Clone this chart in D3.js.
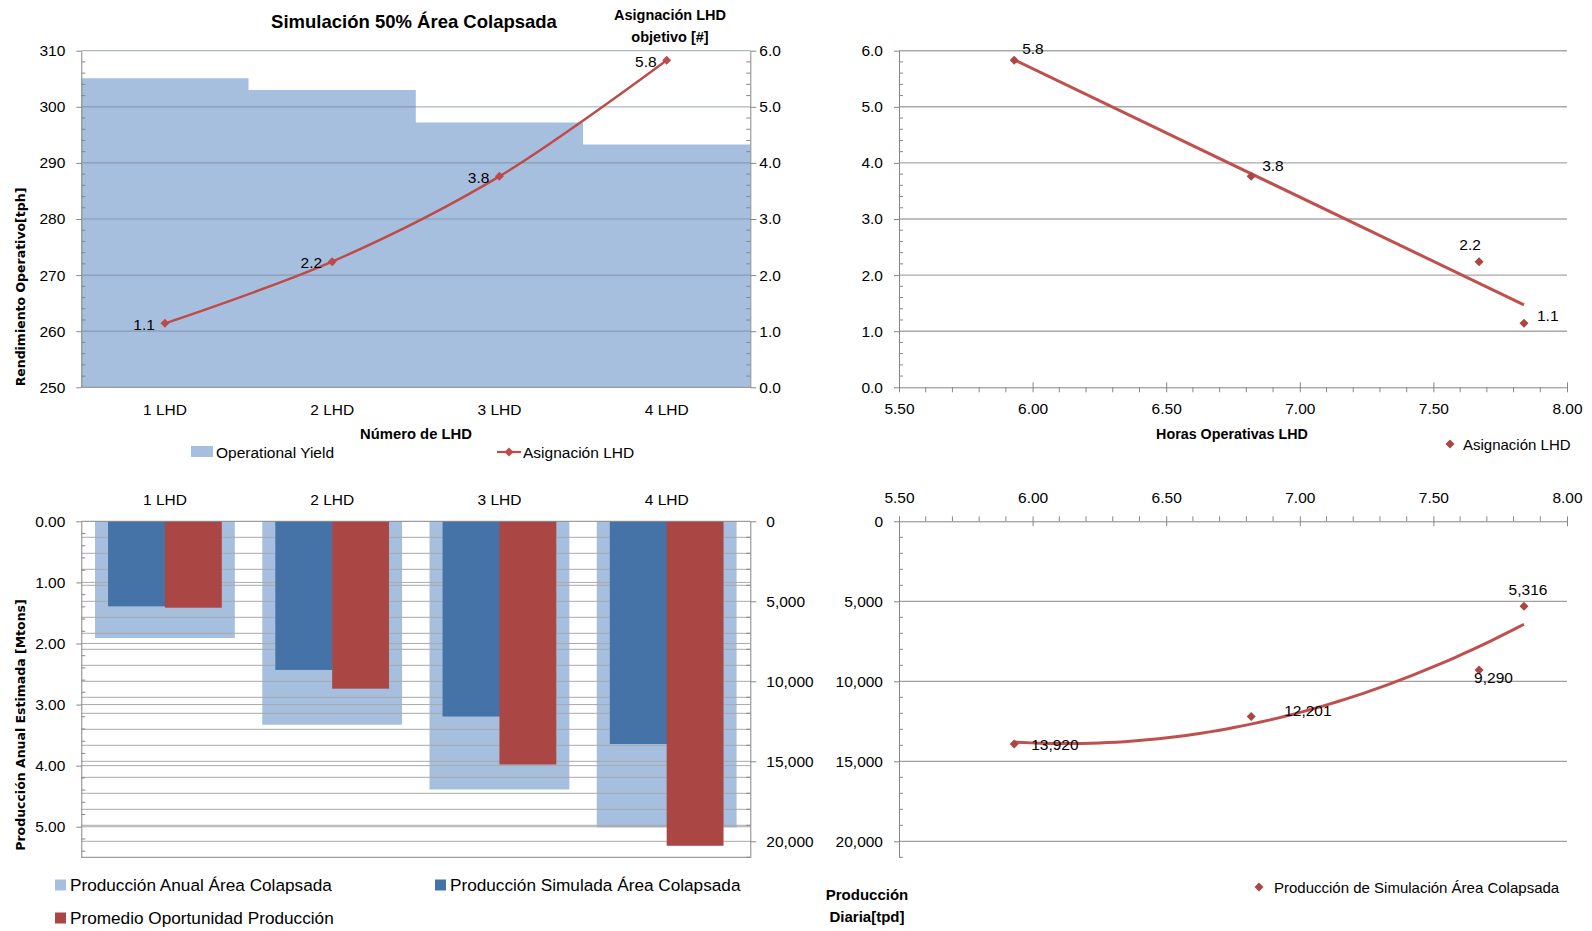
<!DOCTYPE html>
<html>
<head>
<meta charset="utf-8">
<script src="https://cdn.jsdelivr.net/npm/d3@7"></script>
<style>
  body { margin: 0; background: #fff; }
  svg { display: block; }
</style>
</head>
<body>
<svg id="chart" width="1592" height="931"></svg>
<script>
// ---- data ----
const categories = ["1 LHD", "2 LHD", "3 LHD", "4 LHD"];
const operationalYield = [305.1, 303.0, 297.2, 293.3];          // tph
const asignacionLHD = [1.14, 2.24, 3.76, 5.83];                 // LHD objetivo
const horasOperativas = [7.839, 7.671, 6.818, 5.931];           // h
const produccionAnual = [1.91, 3.33, 4.39, 5.01];               // Mtons
const produccionSimulada = [5316, 9290, 12201, 13920];          // tpd
const oportunidadProduccion = [5400, 10460, 15200, 20280];      // tpd

const yieldTicks = [250, 260, 270, 280, 290, 300, 310];
const asignacionTicks = [0, 1, 2, 3, 4, 5, 6];
const horasTicks = [5.5, 6.0, 6.5, 7.0, 7.5, 8.0];
const mtonsTicks = [0, 1, 2, 3, 4, 5];
const tpdTicks = [0, 5000, 10000, 15000, 20000];

// ---- shared styling ----
const FONT = "'Liberation Sans', Arial, sans-serif";
const TITLE_FONT = "'DejaVu Sans', Verdana, sans-serif";
const AXIS = "#868686";
const LIGHT_BLUE = "#a7bfde";
const DARK_BLUE = "#4572a7";
const RED = "#aa4643";
const LINE_RED = "#be4b48";
const TICK_FS = 15.5;

const svg = d3.select("#chart");
svg.append("rect").attr("width", 1592).attr("height", 931).attr("fill", "#fff");

const diamond = r => `M0,${-r}L${r},0L0,${r}L${-r},0Z`;

function styleAxis(g) {
  g.attr("font-family", FONT).attr("font-size", TICK_FS);
  g.selectAll(".domain").attr("stroke", AXIS).attr("stroke-width", 1);
  g.selectAll(".tick line").attr("stroke", AXIS);
  g.selectAll(".tick text").attr("fill", "#000");
}

// minor ticks on a vertical axis at x0, spanning dx0..dx1
function minorV(parent, scale, values, x0, dx0, dx1) {
  parent.append("g").selectAll("line").data(values).join("line")
    .attr("x1", x0 + dx0).attr("x2", x0 + dx1)
    .attr("y1", d => scale(d)).attr("y2", d => scale(d))
    .attr("stroke", AXIS).attr("stroke-width", 1);
}
// minor ticks on a horizontal axis at y0, spanning dy0..dy1
function minorH(parent, scale, values, y0, dy0, dy1) {
  parent.append("g").selectAll("line").data(values).join("line")
    .attr("y1", y0 + dy0).attr("y2", y0 + dy1)
    .attr("x1", d => scale(d)).attr("x2", d => scale(d))
    .attr("stroke", AXIS).attr("stroke-width", 1);
}
function txt(parent, x, y, s, opt = {}) {
  return parent.append("text").attr("x", x).attr("y", y).text(s)
    .attr("font-family", opt.family || FONT)
    .attr("font-size", opt.size || TICK_FS)
    .attr("font-weight", opt.weight || "normal")
    .attr("text-anchor", opt.anchor || "start")
    .attr("dominant-baseline", "central")
    .attr("fill", "#000");
}

// ================= Panel 1: rendimiento operativo + asignación =================
{
  const box = { l: 81.3, r: 750.3, t: 50.7, b: 387.3 };
  const g = svg.append("g");
  const x = d3.scaleBand().domain(categories).range([box.l, box.r]).padding(0);
  const y = d3.scaleLinear().domain([250, 310]).range([box.b, box.t]);
  const y2 = d3.scaleLinear().domain([0, 6]).range([box.b, box.t]);

  // yield as one stepped area so adjacent categories join without seams
  const steps = [];
  operationalYield.forEach((v, i) => {
    const x0 = x(categories[i]);
    steps.push([x0, y(v)], [x0 + x.bandwidth(), y(v)]);
  });
  g.append("path")
    .attr("d", d3.area().x(p => p[0]).y0(box.b).y1(p => p[1])(steps))
    .attr("fill", LIGHT_BLUE);

  g.append("g").selectAll("line").data(yieldTicks.slice(1)).join("line")
    .attr("x1", box.l).attr("x2", box.r)
    .attr("y1", d => y(d)).attr("y2", d => y(d))
    .attr("stroke", "#6e7b8f").attr("stroke-opacity", 0.55).attr("stroke-width", 1.2);

  // left axis
  const ax = g.append("g").attr("transform", `translate(${box.l},0)`)
    .call(d3.axisLeft(y).tickValues(yieldTicks).tickSize(5).tickSizeOuter(0).tickPadding(11).tickFormat(d3.format("d")));
  styleAxis(ax);
  minorV(g, y, d3.range(252, 310, 2).filter(v => v % 10 !== 0), box.l, 0, 4);
  // right axis
  const ar = g.append("g").attr("transform", `translate(${box.r},0)`)
    .call(d3.axisRight(y2).tickValues(asignacionTicks).tickSize(6).tickSizeOuter(0).tickPadding(3).tickFormat(d3.format(".1f")));
  styleAxis(ar);
  minorV(g, y2, d3.range(1, 30).map(v => v / 5).filter((v, i) => (i + 1) % 5 !== 0), box.r, -4, 0);
  // bottom axis
  g.append("line").attr("x1", box.l).attr("x2", box.r).attr("y1", box.b).attr("y2", box.b).attr("stroke", AXIS);
  categories.forEach(c => txt(g, x(c) + x.bandwidth() / 2, 409, c, { anchor: "middle" }));

  // smoothed assignment line
  const pts = asignacionLHD.map((v, i) => [x(categories[i]) + x.bandwidth() / 2, y2(v)]);
  g.append("path").attr("d", d3.line().curve(d3.curveCatmullRom.alpha(0.5))(pts))
    .attr("fill", "none").attr("stroke", LINE_RED).attr("stroke-width", 2.4);
  g.append("g").selectAll("path").data(pts).join("path")
    .attr("transform", p => `translate(${p[0]},${p[1]})`).attr("d", diamond(4.5)).attr("fill", LINE_RED);
  pts.forEach((p, i) => txt(g, p[0] - 10, p[1] + 1, d3.format(".1f")(asignacionLHD[i]), { anchor: "end" }));

  // titles
  txt(g, 414, 21, "Simulación 50% Área Colapsada", { size: 18.5, weight: "bold", anchor: "middle" });
  txt(g, 670, 15, "Asignación LHD", { size: 14.5, weight: "bold", anchor: "middle" });
  txt(g, 670, 37, "objetivo [#]", { size: 14.5, weight: "bold", anchor: "middle" });
  txt(g, 416, 434, "Número de LHD", { size: 14.8, weight: "bold", anchor: "middle" });
  txt(g, 0, 0, "Rendimiento Operativo[tph]", { size: 12.5, weight: "bold", anchor: "middle", family: TITLE_FONT })
    .attr("transform", "translate(20,287) rotate(-90)").attr("x", 0).attr("y", 0);

  // legend
  g.append("rect").attr("x", 191).attr("y", 446).attr("width", 22).attr("height", 11).attr("fill", LIGHT_BLUE);
  txt(g, 216, 452, "Operational Yield", { size: 15.5 });
  g.append("line").attr("x1", 497).attr("x2", 521).attr("y1", 452).attr("y2", 452).attr("stroke", LINE_RED).attr("stroke-width", 2.2);
  g.append("path").attr("transform", "translate(509,452)").attr("d", diamond(4.5)).attr("fill", LINE_RED);
  txt(g, 523, 452, "Asignación LHD", { size: 15.5 });
}

// ================= Panel 2: asignación vs horas operativas =================
{
  const box = { l: 899, r: 1567, t: 50.7, b: 387.3 };
  const g = svg.append("g");
  const x = d3.scaleLinear().domain([5.5, 8]).range([box.l, box.r]);
  const y = d3.scaleLinear().domain([0, 6]).range([box.b, box.t]);

  g.append("g").selectAll("line").data(asignacionTicks.slice(1)).join("line")
    .attr("x1", box.l).attr("x2", box.r)
    .attr("y1", d => y(d)).attr("y2", d => y(d))
    .attr("stroke", "#a8a8a8").attr("stroke-width", 1.4);

  const al = g.append("g").attr("transform", `translate(${box.l},0)`)
    .call(d3.axisLeft(y).tickValues(asignacionTicks).tickSize(5).tickSizeOuter(0).tickPadding(11).tickFormat(d3.format(".1f")));
  styleAxis(al);
  minorV(g, y, d3.range(1, 30).map(v => v / 5).filter((v, i) => (i + 1) % 5 !== 0), box.l, 0, 4);

  const ab = g.append("g").attr("transform", `translate(0,${box.b})`)
    .call(d3.axisBottom(x).tickValues(horasTicks).tickSize(5).tickSizeOuter(0).tickPadding(11).tickFormat(d3.format(".2f")));
  styleAxis(ab);
  ab.selectAll(".tick line").attr("y1", -5);
  minorH(g, x, d3.range(56, 80).map(v => v / 10).filter(v => Math.round(v * 10) % 5 !== 0), box.b, 0, 5);

  // linear trend (least squares)
  const xs = horasOperativas, ys = asignacionLHD;
  const mx = d3.mean(xs), my = d3.mean(ys);
  const slope = d3.sum(xs, (v, i) => (v - mx) * (ys[i] - my)) / d3.sum(xs, v => (v - mx) ** 2);
  const [x0, x1] = d3.extent(xs);
  g.append("line")
    .attr("x1", x(x0)).attr("y1", y(my + slope * (x0 - mx)))
    .attr("x2", x(x1)).attr("y2", y(my + slope * (x1 - mx)))
    .attr("stroke", "#c0504d").attr("stroke-width", 3);

  const pts = xs.map((v, i) => [x(v), y(ys[i])]);
  g.append("g").selectAll("path").data(pts).join("path")
    .attr("transform", p => `translate(${p[0]},${p[1]})`).attr("d", diamond(4.5)).attr("fill", RED);
  const offs = [[13, -8, "start"], [-9, -17, "middle"], [11, -11, "start"], [8, -12, "start"]];
  pts.forEach((p, i) => txt(g, p[0] + offs[i][0], p[1] + offs[i][1], d3.format(".1f")(ys[i]), { anchor: offs[i][2] }));

  txt(g, 1232, 434, "Horas Operativas LHD", { size: 14.3, weight: "bold", anchor: "middle" });
  g.append("path").attr("transform", "translate(1450,444)").attr("d", diamond(4.5)).attr("fill", RED);
  txt(g, 1463, 444, "Asignación LHD", { size: 15 });
}

// ================= Panel 3: producción anual estimada =================
{
  const box = { l: 81.3, r: 750.3, t: 521.3, b: 857.3 };
  const g = svg.append("g");
  const x = d3.scaleBand().domain(categories).range([box.l, box.r]).padding(0);
  const y = d3.scaleLinear().domain([0, 5.5]).range([box.t, box.b]);
  const y2 = d3.scaleLinear().domain([0, 21000]).range([box.t, box.b]);
  const bw = x.bandwidth();
  const cx = c => x(c) + bw / 2;

  g.append("g").selectAll("rect").data(produccionAnual).join("rect")
    .attr("x", (d, i) => cx(categories[i]) - bw * 0.418).attr("width", bw * 0.836)
    .attr("y", box.t).attr("height", d => y(d) - box.t).attr("fill", LIGHT_BLUE);

  const gridVals = d3.range(1000, 21000, 1000).map(v => y2(v)).concat(mtonsTicks.slice(1).map(v => y(v)));
  g.append("g").selectAll("line").data(gridVals).join("line")
    .attr("x1", box.l).attr("x2", box.r).attr("y1", d => d).attr("y2", d => d)
    .attr("stroke", "#a9a9a9").attr("stroke-width", 1);

  g.append("g").selectAll("rect").data(produccionSimulada).join("rect")
    .attr("x", (d, i) => cx(categories[i]) - bw * 0.34).attr("width", bw * 0.34 + 0.5)
    .attr("y", box.t).attr("height", d => y2(d) - box.t).attr("fill", DARK_BLUE);
  g.append("g").selectAll("rect").data(oportunidadProduccion).join("rect")
    .attr("x", (d, i) => cx(categories[i])).attr("width", bw * 0.34)
    .attr("y", box.t).attr("height", d => y2(d) - box.t).attr("fill", RED);

  const al = g.append("g").attr("transform", `translate(${box.l},0)`)
    .call(d3.axisLeft(y).tickValues(mtonsTicks).tickSize(5).tickSizeOuter(0).tickPadding(11).tickFormat(d3.format(".2f")));
  styleAxis(al);
  minorV(g, y, d3.range(1, 28).map(v => v / 5).filter((v, i) => (i + 1) % 5 !== 0), box.l, 0, 4);

  const ar = g.append("g").attr("transform", `translate(${box.r},0)`)
    .call(d3.axisRight(y2).tickValues(tpdTicks).tickSize(6).tickSizeOuter(0).tickPadding(10).tickFormat(d3.format(",")));
  styleAxis(ar);
  minorV(g, y2, d3.range(1000, 21001, 1000).filter(v => v % 5000 !== 0), box.r, -4, 0);

  g.append("line").attr("x1", box.l).attr("x2", box.r).attr("y1", box.t).attr("y2", box.t).attr("stroke", AXIS);
  g.append("line").attr("x1", box.l).attr("x2", box.r).attr("y1", box.b).attr("y2", box.b).attr("stroke", AXIS);
  categories.forEach(c => txt(g, cx(c), 499, c, { anchor: "middle" }));

  txt(g, 0, 0, "Producción Anual Estimada [Mtons]", { size: 12.5, weight: "bold", anchor: "middle", family: TITLE_FONT })
    .attr("transform", "translate(20,725) rotate(-90)");

  const leg = [
    [55, 885, LIGHT_BLUE, "Producción Anual Área Colapsada"],
    [435, 885, DARK_BLUE, "Producción Simulada Área Colapsada"],
    [55, 918, RED, "Promedio Oportunidad Producción"]
  ];
  leg.forEach(([lx, ly, col, s]) => {
    g.append("rect").attr("x", lx).attr("y", ly - 5.5).attr("width", 11).attr("height", 11).attr("fill", col);
    txt(g, lx + 15, ly, s, { size: 17.2 });
  });
}

// ================= Panel 4: producción diaria vs horas operativas =================
{
  const box = { l: 899, r: 1567, t: 521.3, b: 857.3 };
  const g = svg.append("g");
  const x = d3.scaleLinear().domain([5.5, 8]).range([box.l, box.r]);
  const y = d3.scaleLinear().domain([0, 21000]).range([box.t, box.b]);

  g.append("g").selectAll("line").data(tpdTicks.slice(1)).join("line")
    .attr("x1", box.l).attr("x2", box.r)
    .attr("y1", d => y(d)).attr("y2", d => y(d))
    .attr("stroke", "#a0a0a0").attr("stroke-width", 1.3);

  const al = g.append("g").attr("transform", `translate(${box.l},0)`)
    .call(d3.axisLeft(y).tickValues(tpdTicks).tickSize(5).tickSizeOuter(0).tickPadding(11).tickFormat(d3.format(",")));
  styleAxis(al);
  minorV(g, y, d3.range(1000, 21001, 1000).filter(v => v % 5000 !== 0), box.l, 0, 4);

  const at = g.append("g").attr("transform", `translate(0,${box.t})`)
    .call(d3.axisTop(x).tickValues(horasTicks).tickSize(5).tickSizeOuter(0).tickPadding(13).tickFormat(d3.format(".2f")));
  styleAxis(at);
  at.selectAll(".tick line").attr("y1", 5);
  minorH(g, x, d3.range(56, 80).map(v => v / 10).filter(v => Math.round(v * 10) % 5 !== 0), box.t, -5, 0);

  // second-order polynomial trend (least squares)
  const xs = horasOperativas, ys = produccionSimulada;
  const mx = d3.mean(xs);
  const u = xs.map(v => v - mx);
  const S = k => d3.sum(u, v => v ** k);
  const Sy = k => d3.sum(u, (v, i) => v ** k * ys[i]);
  const A = [[4, S(1), S(2)], [S(1), S(2), S(3)], [S(2), S(3), S(4)]];
  const B = [Sy(0), Sy(1), Sy(2)];
  const det3 = m => m[0][0] * (m[1][1] * m[2][2] - m[1][2] * m[2][1])
    - m[0][1] * (m[1][0] * m[2][2] - m[1][2] * m[2][0])
    + m[0][2] * (m[1][0] * m[2][1] - m[1][1] * m[2][0]);
  const D = det3(A);
  const coef = [0, 1, 2].map(c => det3(A.map((row, r) => row.map((v, k) => (k === c ? B[r] : v)))) / D);
  const fit = xv => coef[0] + coef[1] * (xv - mx) + coef[2] * (xv - mx) ** 2;
  const [x0, x1] = d3.extent(xs);
  const curve = d3.range(0, 61).map(i => x0 + (x1 - x0) * i / 60);
  g.append("path").attr("d", d3.line().x(v => x(v)).y(v => y(fit(v)))(curve))
    .attr("fill", "none").attr("stroke", "#c0504d").attr("stroke-width", 3);

  const pts = xs.map((v, i) => [x(v), y(ys[i])]);
  g.append("g").selectAll("path").data(pts).join("path")
    .attr("transform", p => `translate(${p[0]},${p[1]})`).attr("d", diamond(4.5)).attr("fill", RED);
  const offs = [[4, -17, "middle"], [-5, 8, "start"], [33, -6, "start"], [17, 0, "start"]];
  pts.forEach((p, i) => txt(g, p[0] + offs[i][0], p[1] + offs[i][1], d3.format(",")(ys[i]), { anchor: offs[i][2] }));

  txt(g, 867, 894, "Producción", { size: 15, weight: "bold", anchor: "middle" });
  txt(g, 867, 916, "Diaria[tpd]", { size: 15, weight: "bold", anchor: "middle" });
  g.append("path").attr("transform", "translate(1259,887)").attr("d", diamond(4.5)).attr("fill", RED);
  txt(g, 1274, 887, "Producción de Simulación Área Colapsada", { size: 15 });
}
</script>
</body>
</html>
